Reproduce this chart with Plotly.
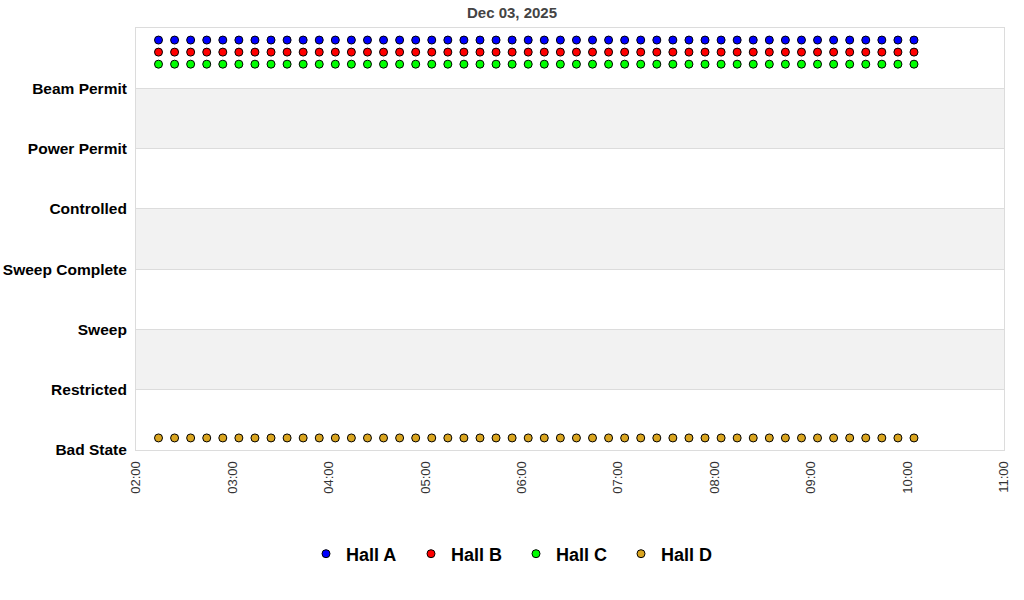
import plotly.graph_objects as go

# ---------------------------------------------------------------------------
# Data
# ---------------------------------------------------------------------------
DAY = "2025-12-03"

times = [
    "02:14", "02:24", "02:34", "02:44", "02:54", "03:04", "03:14", "03:24",
    "03:34", "03:44", "03:54", "04:04", "04:14", "04:24", "04:34", "04:44",
    "04:54", "05:04", "05:14", "05:24", "05:34", "05:44", "05:54", "06:04",
    "06:14", "06:24", "06:34", "06:44", "06:54", "07:04", "07:14", "07:24",
    "07:34", "07:44", "07:54", "08:04", "08:14", "08:24", "08:34", "08:44",
    "08:54", "09:04", "09:14", "09:24", "09:34", "09:44", "09:54", "10:04",
]

state_labels = ["Bad State", "Restricted", "Sweep", "Sweep Complete",
                "Controlled", "Power Permit", "Beam Permit"]

hall_a = [6.8, 6.8, 6.8, 6.8, 6.8, 6.8, 6.8, 6.8, 6.8, 6.8, 6.8, 6.8,
          6.8, 6.8, 6.8, 6.8, 6.8, 6.8, 6.8, 6.8, 6.8, 6.8, 6.8, 6.8,
          6.8, 6.8, 6.8, 6.8, 6.8, 6.8, 6.8, 6.8, 6.8, 6.8, 6.8, 6.8,
          6.8, 6.8, 6.8, 6.8, 6.8, 6.8, 6.8, 6.8, 6.8, 6.8, 6.8, 6.8]
hall_b = [6.6, 6.6, 6.6, 6.6, 6.6, 6.6, 6.6, 6.6, 6.6, 6.6, 6.6, 6.6,
          6.6, 6.6, 6.6, 6.6, 6.6, 6.6, 6.6, 6.6, 6.6, 6.6, 6.6, 6.6,
          6.6, 6.6, 6.6, 6.6, 6.6, 6.6, 6.6, 6.6, 6.6, 6.6, 6.6, 6.6,
          6.6, 6.6, 6.6, 6.6, 6.6, 6.6, 6.6, 6.6, 6.6, 6.6, 6.6, 6.6]
hall_c = [6.4, 6.4, 6.4, 6.4, 6.4, 6.4, 6.4, 6.4, 6.4, 6.4, 6.4, 6.4,
          6.4, 6.4, 6.4, 6.4, 6.4, 6.4, 6.4, 6.4, 6.4, 6.4, 6.4, 6.4,
          6.4, 6.4, 6.4, 6.4, 6.4, 6.4, 6.4, 6.4, 6.4, 6.4, 6.4, 6.4,
          6.4, 6.4, 6.4, 6.4, 6.4, 6.4, 6.4, 6.4, 6.4, 6.4, 6.4, 6.4]
hall_d = [0.2, 0.2, 0.2, 0.2, 0.2, 0.2, 0.2, 0.2, 0.2, 0.2, 0.2, 0.2,
          0.2, 0.2, 0.2, 0.2, 0.2, 0.2, 0.2, 0.2, 0.2, 0.2, 0.2, 0.2,
          0.2, 0.2, 0.2, 0.2, 0.2, 0.2, 0.2, 0.2, 0.2, 0.2, 0.2, 0.2,
          0.2, 0.2, 0.2, 0.2, 0.2, 0.2, 0.2, 0.2, 0.2, 0.2, 0.2, 0.2]

halls = ["Hall A", "Hall B", "Hall C", "Hall D"]
hall_values = [hall_a, hall_b, hall_c, hall_d]

# ---------------------------------------------------------------------------
# Style
# ---------------------------------------------------------------------------
_FONT = "'Liberation Sans', Arial, sans-serif"
_COLORS = ["#0000ff", "#ff0000", "#00ff00", "#daa520"]
_BAND = "#f2f2f2"
_GRID = "#dcdcdc"

x_vals = [f"{DAY} {t}" for t in times]

fig = go.Figure()
for name, vals, color in zip(halls, hall_values, _COLORS):
    fig.add_trace(go.Scatter(
        x=x_vals, y=vals, name=f"<b>{name}</b>", mode="markers",
        marker=dict(symbol="circle", size=8, color=color,
                    line=dict(color="#000000", width=1)),
    ))

# alternating shaded bands between state levels
for lo in (1, 3, 5):
    fig.add_shape(type="rect", xref="paper", yref="y", x0=0, x1=1,
                  y0=lo, y1=lo + 1, fillcolor=_BAND, line_width=0,
                  layer="below")

fig.update_layout(
    width=1024, height=600,
    paper_bgcolor="white", plot_bgcolor="white",
    font=dict(family=_FONT, color="#000000"),
    margin=dict(l=136, r=20, t=28, b=150),
    title=dict(text="<b>Dec 03, 2025</b>", x=0.5, xref="container",
               xanchor="center", y=1 - 13 / 600, yref="container",
               yanchor="middle",
               font=dict(size=15, color="#444444", family=_FONT)),
    xaxis=dict(
        type="date",
        range=[f"{DAY} 02:00", f"{DAY} 11:00"],
        dtick=3600000, tickformat="%H:%M", tickangle=-90,
        tickfont=dict(size=13, color="#333333"),
        showgrid=False, zeroline=False, ticklabelstandoff=5,
        showline=True, linecolor=_GRID, linewidth=1, mirror=True,
        automargin=False,
    ),
    yaxis=dict(
        range=[0, 7],
        tickvals=[0, 1, 2, 3, 4, 5, 6],
        ticktext=[f"<b>{s}</b>" for s in state_labels],
        tickfont=dict(size=15.5, color="#000000"),
        showgrid=True, gridcolor=_GRID, gridwidth=1, zeroline=False,
        showline=True, linecolor=_GRID, linewidth=1, mirror=True,
        ticks="", ticklabelstandoff=5, automargin=False,
    ),
    legend=dict(
        orientation="h", xref="container", yref="container",
        x=0.5 + 4 / 1024, xanchor="center", y=1 - 554 / 600,
        yanchor="middle",
        font=dict(size=18, color="#000000"),
        itemsizing="trace", entrywidth=60, entrywidthmode="pixels",
    ),
    showlegend=True,
)

# the page body has a default 8px margin; drop it so the figure sits at 0,0
fig.write_html("out.html", config={"displayModeBar": False},
               post_script="document.body.style.margin='0';")
